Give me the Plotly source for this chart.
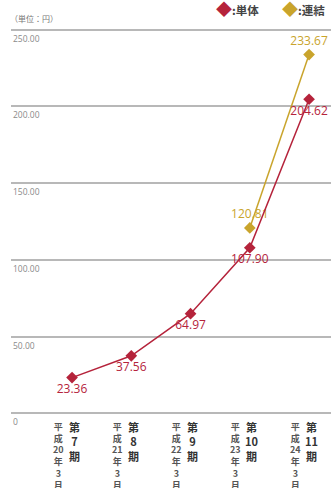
import plotly.graph_objects as go

periods = ["第7期", "第8期", "第9期", "第10期", "第11期"]
dates = ["平成20年3月", "平成21年3月", "平成22年3月", "平成23年3月", "平成24年3月"]
single = [23.36, 37.56, 64.97, 107.90, 204.62]
consol_idx = [3, 4]
consol = [120.81, 233.67]
ytick_vals = [0, 50, 100, 150, 200, 250]
ytick_text = ["0", "50.00", "100.00", "150.00", "200.00", "250.00"]

RED = "#b5233b"
GOLD = "#c9a42c"
NUMFONT = "Open Sans, Noto Sans CJK JP"
JPFONT = "Noto Sans CJK JP"

xs = list(range(len(periods)))

fig = go.Figure()
fig.add_trace(go.Scatter(
    x=[xs[i] for i in consol_idx], y=consol, mode="lines+markers+text",
    line=dict(color=GOLD, width=1.5),
    marker=dict(symbol="diamond", size=9, color=GOLD),
    text=[f"{v:.2f}" for v in consol], textposition="top center",
    textfont=dict(color=GOLD, size=12, family=NUMFONT),
    cliponaxis=False, showlegend=False, hoverinfo="skip"))
fig.add_trace(go.Scatter(
    x=xs, y=single, mode="lines+markers+text",
    line=dict(color=RED, width=1.5),
    marker=dict(symbol="diamond", size=9, color=RED),
    text=[f"{v:.2f}" for v in single], textposition="bottom center",
    textfont=dict(color=RED, size=12, family=NUMFONT),
    cliponaxis=False, showlegend=False, hoverinfo="skip"))

ann = []
for v, t in zip(ytick_vals, ytick_text):
    ann.append(dict(xref="paper", x=0, xanchor="left", yref="y", y=v, yanchor="top",
                    yshift=-1, text=t, showarrow=False,
                    font=dict(size=8.5, color="#8a8a8a", family=NUMFONT)))
for i, (p, d) in enumerate(zip(periods, dates)):
    ptxt = "<br>".join([p[0], p[1:-1], p[-1]])
    dchars = ["平", "成", d[2:4], "年", "3", "月"]
    ann.append(dict(xref="x", x=xs[i], xanchor="center", yref="paper", y=0, yanchor="top",
                    yshift=-3, xshift=2, text="<b>" + ptxt + "</b>", showarrow=False,
                    borderpad=0,
                    font=dict(size=11, color="#333333", family=JPFONT)))
    ann.append(dict(xref="x", x=xs[i], xanchor="center", yref="paper", y=0, yanchor="top",
                    yshift=-4, xshift=-14, text="<b>" + "<br>".join(dchars) + "</b>",
                    showarrow=False, borderpad=0,
                    font=dict(size=9, color="#555555", family=JPFONT)))

ann.append(dict(xref="paper", x=-0.01, xanchor="left", yref="paper", y=1.0, yanchor="bottom",
                yshift=2, text="（単位：円）", showarrow=False,
                font=dict(size=8, color="#777777", family=JPFONT)))
ann.append(dict(xref="paper", x=0.635, xanchor="left", yref="paper", y=1.0, yanchor="bottom",
                yshift=6, text=f"<span style='color:{RED};font-size:16px'>◆</span><b>:単体</b>",
                showarrow=False, font=dict(size=11.5, color="#444444", family=JPFONT)))
ann.append(dict(xref="paper", x=0.84, xanchor="left", yref="paper", y=1.0, yanchor="bottom",
                yshift=6, text=f"<span style='color:{GOLD};font-size:16px'>◆</span><b>:連結</b>",
                showarrow=False, font=dict(size=11.5, color="#444444", family=JPFONT)))

fig.update_layout(
    width=331, height=488,
    margin=dict(l=11, r=0, t=28, b=73),
    paper_bgcolor="white", plot_bgcolor="white",
    xaxis=dict(range=[-1.03, 4.37], showgrid=False, zeroline=False,
               showticklabels=False, fixedrange=True),
    yaxis=dict(range=[-1, 251], tickvals=ytick_vals, showticklabels=False,
               showgrid=True, gridcolor="#b8b8b8", gridwidth=2, zeroline=False,
               fixedrange=True),
    annotations=ann,
)
fig.write_html("out.html", config={"displayModeBar": False})
